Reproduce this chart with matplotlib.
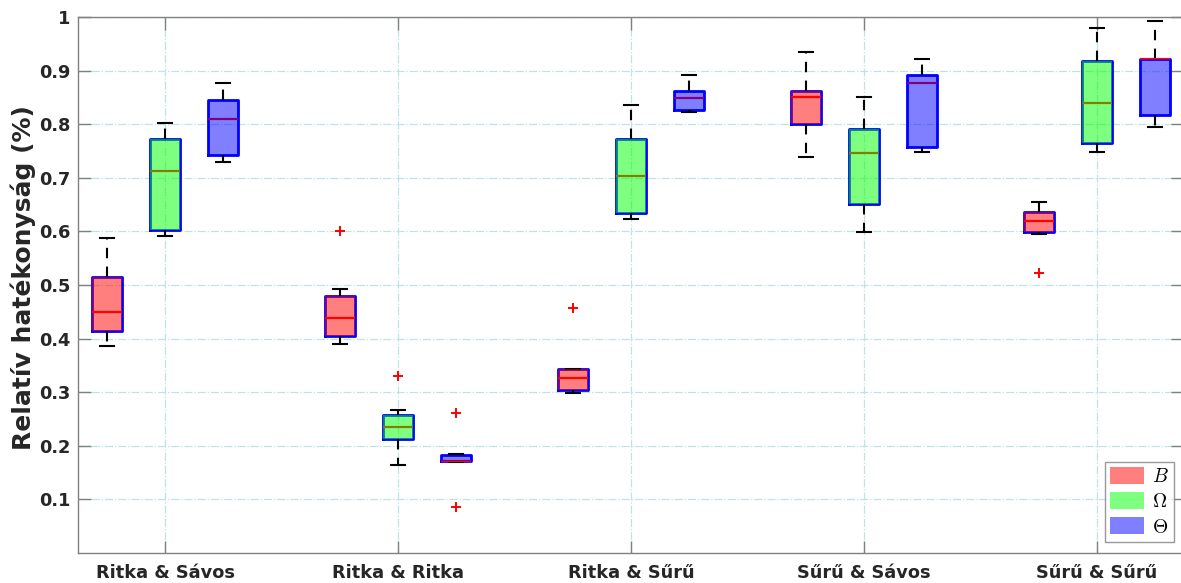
import matplotlib
matplotlib.use("Agg")
import matplotlib.pyplot as plt
from matplotlib.patches import Patch

# ---- data ----
categories = ["Ritka & Sávos", "Ritka & Ritka", "Ritka & Sűrű", "Sűrű & Sávos", "Sűrű & Sűrű"]
series_labels = [r"$B$", r"$\Omega$", r"$\Theta$"]
series_colors = [(1, 0, 0), (0, 1, 0), (0, 0, 1)]

B_whislo = [0.386, 0.390, 0.298, 0.738, 0.595]
B_q1     = [0.415, 0.405, 0.305, 0.800, 0.598]
B_med    = [0.450, 0.438, 0.326, 0.851, 0.620]
B_q3     = [0.514, 0.479, 0.344, 0.862, 0.637]
B_whishi = [0.588, 0.493, 0.344, 0.934, 0.655]
B_fliers = [[], [0.601], [0.457], [], [0.523]]

O_whislo = [0.591, 0.164, 0.624, 0.598, 0.749]
O_q1     = [0.603, 0.213, 0.634, 0.651, 0.765]
O_med    = [0.712, 0.236, 0.703, 0.746, 0.840]
O_q3     = [0.772, 0.258, 0.773, 0.791, 0.917]
O_whishi = [0.803, 0.267, 0.835, 0.850, 0.980]
O_fliers = [[], [0.331], [], [], []]

T_whislo = [0.730, 0.170, 0.822, 0.748, 0.795]
T_q1     = [0.742, 0.171, 0.827, 0.757, 0.817]
T_med    = [0.810, 0.172, 0.848, 0.877, 0.921]
T_q3     = [0.845, 0.182, 0.862, 0.891, 0.922]
T_whishi = [0.877, 0.185, 0.891, 0.921, 0.993]
T_fliers = [[], [0.262, 0.086], [], [], []]

yticks = [0.1, 0.2, 0.3, 0.4, 0.5, 0.6, 0.7, 0.8, 0.9, 1.0]
ytick_labels = ["0.1", "0.2", "0.3", "0.4", "0.5", "0.6", "0.7", "0.8", "0.9", "1"]

series = [
    (B_whislo, B_q1, B_med, B_q3, B_whishi, B_fliers),
    (O_whislo, O_q1, O_med, O_q3, O_whishi, O_fliers),
    (T_whislo, T_q1, T_med, T_q3, T_whishi, T_fliers),
]
offsets = [-0.25, 0.0, 0.25]

plt.rcParams["mathtext.fontset"] = "cm"
plt.rcParams["font.family"] = ["DejaVu Sans"]

fig = plt.figure(figsize=(11.81, 5.83), dpi=100)
ax = fig.add_axes([78 / 1181, 30 / 583, (1183 - 78) / 1181, 536 / 583])

grid_col = "#bfe3e3"
for s_idx, (wl, q1, md, q3, wh, fl) in enumerate(series):
    stats = []
    for g in range(len(categories)):
        stats.append(dict(whislo=wl[g], q1=q1[g], med=md[g], q3=q3[g], whishi=wh[g], fliers=fl[g]))
    pos = [g + 1 + offsets[s_idx] for g in range(len(categories))]
    res = ax.bxp(
        stats, positions=pos, widths=0.13, capwidths=0.06, patch_artist=False,
        boxprops=dict(color="#0000ff", linewidth=2.0),
        medianprops=dict(color="#ff0000", linewidth=1.6),
        whiskerprops=dict(color="black", linestyle=(0, (5, 4)), linewidth=1.5),
        capprops=dict(color="black", linewidth=1.5),
        flierprops=dict(marker="+", markeredgecolor="red", markersize=7, markeredgewidth=1.4),
        manage_ticks=False, zorder=3,
    )
    for bl in res["boxes"]:
        ax.fill(bl.get_xdata(), bl.get_ydata(), color=series_colors[s_idx], alpha=0.5,
                linewidth=0, zorder=4)

ax.set_xlim(1 - (165 - 78) / 232.9, 5 + (1183 - 1097) / 232.9)
ax.set_ylim(0, 1)
ax.set_xticks(range(1, len(categories) + 1))
ax.set_xticklabels(categories, fontsize=12.8, fontweight="bold", color="#262626")
ax.set_yticks(yticks)
ax.set_yticklabels(ytick_labels, fontsize=12.8, fontweight="bold", color="#262626")
ax.set_ylabel("Relatív hatékonyság (%)", fontsize=18, fontweight="bold", color="#262626")
ax.yaxis.set_label_coords(-0.038, 0.513)

ax.grid(True, color=grid_col, linestyle="-.", linewidth=0.9, zorder=0)
ax.set_axisbelow(True)
ax.tick_params(direction="in", length=9, color="#808080", top=True, right=True, width=1.0)
ax.tick_params(axis="x", pad=8)
ax.tick_params(axis="y", pad=5.5)
for sp in ax.spines.values():
    sp.set_color("#808080")
    sp.set_linewidth(1.0)

handles = [Patch(facecolor=c, alpha=0.5, edgecolor="none") for c in series_colors]
leg = ax.legend(handles, series_labels, loc="lower right", bbox_to_anchor=(1 - 9 / 1105, 11 / 536),
                fontsize=14, frameon=True, fancybox=False, edgecolor="#808080",
                handlelength=1.75, handleheight=0.98, handletextpad=0.4, borderpad=0.28,
                labelspacing=0.3, borderaxespad=0)
leg.get_frame().set_linewidth(1.0)

fig.savefig("out.png", dpi=100)
